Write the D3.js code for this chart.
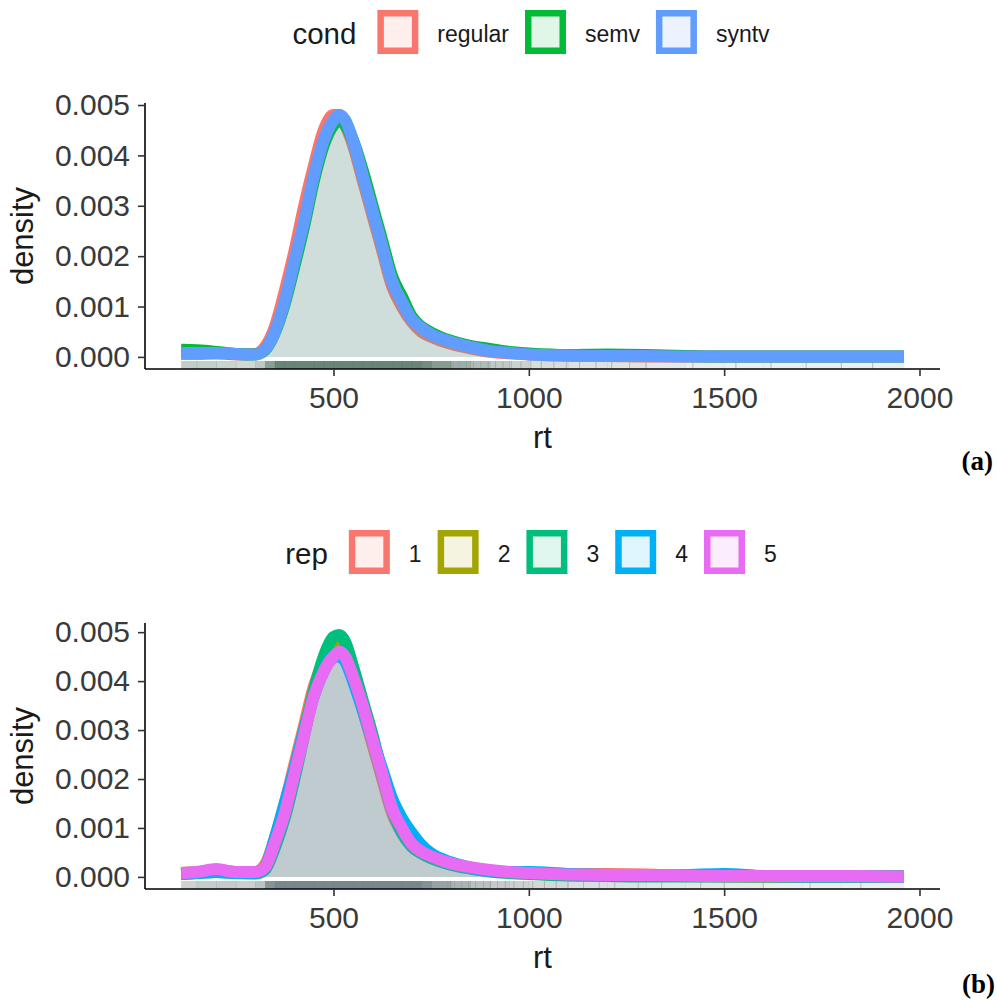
<!DOCTYPE html>
<html>
<head>
<meta charset="utf-8">
<script src="https://cdn.jsdelivr.net/npm/d3@7"></script>
<style>
    body { margin: 0; background: #fff; }
    svg { display: block; font-family: "Liberation Sans", Arial, sans-serif; }
</style>
</head>
<body>
<div id="chart"></div>
<script>

// ---- data ----
const rtGrid = [110, 150, 200, 250, 300, 325, 350, 375, 400, 425, 450, 475, 500, 515, 530, 550, 575, 600,
    625, 650, 675, 700, 725, 750, 800, 850, 900, 950, 1000, 1100, 1200, 1300, 1400, 1500, 1600, 1700, 1800, 1960];

// panel (a): density by cond
const regularDens = [0.00006, 0.00006, 0.00007, 0.00005, 0.00006, 0.0002, 0.0006, 0.0013, 0.0021, 0.0030, 0.0038, 0.0045, 0.0048, 0.0048, 0.0046, 0.0042, 0.0035, 0.0028,
    0.0021, 0.0014, 0.0010, 0.0007, 0.0005, 0.0004, 0.00026, 0.00017, 0.0001, 0.00007, 0.00005, 0.00002, 0.00002, 0.00001, 0.00001, 0.00001, 0.00001, 0.00001, 0.00001, 0.00001];
const semvDens = [0.00014, 0.00013, 0.0001, 0.00006, 0.00005, 0.00014, 0.00048, 0.00105, 0.0018, 0.0026, 0.0035, 0.0042, 0.0046, 0.0047, 0.0046, 0.0043, 0.0037, 0.0030,
    0.0023, 0.0016, 0.0012, 0.0008, 0.0006, 0.00048, 0.00032, 0.00022, 0.00016, 0.0001, 0.00007, 0.00004, 0.00005, 0.00004, 0.00002, 0.00001, 0.00001, 0.00001, 0.00001, 0.00001];
const syntvDens = [0.00008, 0.00008, 0.00008, 0.00006, 0.00005, 0.00015, 0.0005, 0.0011, 0.0019, 0.0027, 0.0036, 0.0043, 0.0047, 0.0048, 0.0047, 0.0043, 0.0036, 0.0029,
    0.0022, 0.0015, 0.0011, 0.00075, 0.00058, 0.00045, 0.0003, 0.0002, 0.00012, 0.00008, 0.00005, 0.00003, 0.00002, 0.00002, 0.00001, 0.00001, 0.00001, 0.00001, 0.00001, 0.00001];

// panel (b): density by rep
const rep1Dens = [0.00006, 0.00008, 0.00014, 0.0001, 0.0001, 0.00025, 0.0008, 0.0015, 0.0023, 0.0031, 0.0039, 0.0044, 0.0047, 0.0047, 0.0045, 0.0041, 0.0034, 0.0027,
    0.0020, 0.0013, 0.0009, 0.00065, 0.0005, 0.0004, 0.00027, 0.00018, 0.00012, 0.00009, 0.00007, 0.00006, 0.00006, 0.00005, 0.00002, 0.00001, 0.00001, 0.00001, 0.00001, 0.00001];
const rep2Dens = [0.00008, 0.0001, 0.00012, 0.0001, 0.00009, 0.0002, 0.0007, 0.0013, 0.0021, 0.0030, 0.0038, 0.0044, 0.0047, 0.0048, 0.0046, 0.0042, 0.0035, 0.0028,
    0.0021, 0.0014, 0.00095, 0.00068, 0.0005, 0.0004, 0.00026, 0.00018, 0.00012, 0.00009, 0.00007, 0.00004, 0.00003, 0.00003, 0.00002, 0.00002, 0.00001, 0.00001, 0.00001, 0.00001];
const rep3Dens = [0.00006, 0.00008, 0.0001, 0.00008, 0.00007, 0.00015, 0.0006, 0.0012, 0.0020, 0.0029, 0.0038, 0.0045, 0.0049, 0.00494, 0.0048, 0.0043, 0.0036, 0.0029,
    0.0021, 0.0014, 0.0009, 0.00062, 0.00048, 0.00038, 0.00025, 0.00017, 0.00011, 0.00008, 0.00006, 0.00003, 0.00002, 0.00001, 0.00001, 0.00001, 0.00001, 0.00001, 0.00001, 0.00001];
const rep4Dens = [0.00007, 0.00008, 0.0001, 0.00008, 0.00008, 0.0002, 0.0008, 0.0015, 0.0022, 0.0030, 0.0037, 0.0042, 0.0045, 0.0045, 0.0044, 0.0040, 0.0034, 0.0028,
    0.0022, 0.0016, 0.0012, 0.0009, 0.00065, 0.00048, 0.0003, 0.00019, 0.00012, 0.0001, 0.0001, 0.00006, 0.00004, 0.00003, 0.00004, 0.00006, 0.00002, 0.00001, 0.00001, 0.00001];
const rep5Dens = [0.00008, 0.0001, 0.00016, 0.0001, 0.0001, 0.0002, 0.0007, 0.0013, 0.0021, 0.0029, 0.0037, 0.0042, 0.0045, 0.0046, 0.0045, 0.0041, 0.0035, 0.0028,
    0.0021, 0.0014, 0.0010, 0.00068, 0.00052, 0.00042, 0.00028, 0.0002, 0.00014, 0.0001, 0.00008, 0.00005, 0.00004, 0.00004, 0.00003, 0.00002, 0.00002, 0.00002, 0.00002, 0.00001];

const condLevels = ["regular", "semv", "syntv"];
const condColors = ["#F8766D", "#00BA38", "#619CFF"];
const repLevels = ["1", "2", "3", "4", "5"];
const repColors = ["#F8766D", "#A3A500", "#00BF7D", "#00B0F6", "#E76BF3"];

// a few single rug marks visible in the sparse tail
const rugTailA = [790, 806, 822, 840, 858, 877, 896, 915, 934, 955, 980, 1005, 1032, 1064, 1096, 1130, 1172, 1212, 1258, 1300, 1420, 1530, 1620, 1710, 1800, 1880];
const rugTailB = [792, 810, 828, 846, 864, 884, 902, 920, 940, 962, 986, 1010, 1040, 1070, 1100, 1140, 1180, 1220, 1280, 1340, 1440, 1500, 1600, 1720, 1850];

const xTicks = [500, 1000, 1500, 2000];
const yTicks = [0, 0.001, 0.002, 0.003, 0.004, 0.005];

// ---- layout ----
const W = 997, H = 1001;
const plot = {left: 145, right: 940, top: 103, bottom: 369};
const legendCenterX = 531, keyW = 41, keyH = 44, keyTop = 10;

const svg = d3.select("#chart").append("svg")
    .attr("width", W)
    .attr("height", H);

function drawPanel(offsetY, title, levels, colors, series, rugColor, rugTail, tag, tagX, tagY, tagAnchor) {
    let g = svg.append("g").attr("transform", `translate(0, ${offsetY})`);

    // scales with ggplot's 5% expansion
    let xMin = d3.min(rtGrid), xMax = d3.max(rtGrid);
    let xPad = (xMax - xMin) * 0.05;
    let x = d3.scaleLinear().domain([xMin - xPad, xMax + xPad]).range([plot.left, plot.right]);

    let yMax = d3.max(series, s => d3.max(s));
    let y = d3.scaleLinear().domain([-yMax * 0.05, yMax * 1.05]).range([plot.bottom, plot.top]);

    // rug: shaded by local density of all groups
    let rugTop = plot.bottom - 8;
    let meanDens = rtGrid.map((r, i) => d3.mean(series, s => s[i]));
    let rugSegs = rtGrid.slice(0, -1).map((r, i) => ({x0: r, x1: rtGrid[i + 1], d: (meanDens[i] + meanDens[i + 1]) / 2}));
    g.append("g").selectAll("rect")
        .data(rugSegs)
        .enter().append("rect")
        .attr("x", d => x(d.x0))
        .attr("width", d => x(d.x1) - x(d.x0) + 0.5)
        .attr("y", rugTop)
        .attr("height", plot.bottom - rugTop)
        .attr("fill", rugColor)
        .attr("opacity", d => Math.min(0.9, Math.sqrt(d.d / 0.0007)));
    g.append("g").selectAll("line")
        .data(rugTail)
        .enter().append("line")
        .attr("x1", d => x(d)).attr("x2", d => x(d))
        .attr("y1", rugTop).attr("y2", plot.bottom)
        .attr("stroke", "#999")
        .attr("stroke-width", 1)
        .attr("opacity", 0.6);

    // densities
    let area = d3.area()
        .x((d, i) => x(rtGrid[i]))
        .y0(y(0))
        .y1(d => y(d))
        .curve(d3.curveMonotoneX);
    let line = d3.line()
        .x((d, i) => x(rtGrid[i]))
        .y(d => y(d))
        .curve(d3.curveMonotoneX);

    series.forEach((s, k) => {
        g.append("path")
            .attr("d", area(s))
            .attr("fill", colors[k])
            .attr("fill-opacity", 0.12);
        g.append("path")
            .attr("d", line(s))
            .attr("fill", "none")
            .attr("stroke", colors[k])
            .attr("stroke-width", 12)
            .attr("stroke-linejoin", "round")
            .attr("stroke-linecap", "butt");
    });

    // axes
    let xAxis = d3.axisBottom(x).tickValues(xTicks).tickSize(7).tickPadding(11).tickFormat(d3.format("d"));
    let yAxis = d3.axisLeft(y).tickValues(yTicks).tickSize(7).tickPadding(8).tickFormat(d3.format(".3f"));

    let xg = g.append("g")
        .attr("transform", `translate(0, ${plot.bottom})`)
        .call(xAxis);
    let yg = g.append("g")
        .attr("transform", `translate(${plot.left}, 0)`)
        .call(yAxis);

    [xg, yg].forEach(a => {
        a.select(".domain").attr("stroke", "#000").attr("stroke-width", 1.6);
        a.selectAll(".tick line").attr("stroke", "#333").attr("stroke-width", 1.6);
        a.selectAll(".tick text")
            .attr("fill", "#3a3a3a")
            .style("font-size", "30px")
            .style("font-family", "Liberation Sans, Arial, sans-serif");
    });
    xg.select(".domain").attr("d", `M${plot.left},0H${plot.right}`);
    yg.select(".domain").attr("d", `M0,${plot.top}V${plot.bottom}`);

    // axis titles
    g.append("text")
        .attr("x", (plot.left + plot.right) / 2)
        .attr("y", 448)
        .attr("text-anchor", "middle")
        .style("font-size", "31px")
        .attr("fill", "#1a1a1a")
        .text("rt");
    g.append("text")
        .attr("transform", `translate(33, ${(plot.top + plot.bottom) / 2}) rotate(-90)`)
        .attr("text-anchor", "middle")
        .style("font-size", "31px")
        .attr("fill", "#1a1a1a")
        .text("density");

    // legend on top
    let leg = g.append("g");
    let titleText = leg.append("text")
        .attr("y", keyTop + keyH / 2 + 12)
        .style("font-size", "29.5px")
        .attr("fill", "#1a1a1a")
        .text(title);
    let cursor = titleText.node().getComputedTextLength() + 21;
    levels.forEach((lev, k) => {
        leg.append("rect")
            .attr("x", cursor + 3.25)
            .attr("y", keyTop + 3.25)
            .attr("width", keyW - 6.5)
            .attr("height", keyH - 6.5)
            .attr("fill", d3.interpolateRgb("#ffffff", colors[k])(0.12))
            .attr("stroke", colors[k])
            .attr("stroke-width", 6.5);
        cursor += keyW + 19;
        let t = leg.append("text")
            .attr("x", cursor)
            .attr("y", keyTop + keyH / 2 + 10)
            .style("font-size", "23px")
            .attr("fill", "#1a1a1a")
            .text(lev);
        cursor += t.node().getComputedTextLength() + 16;
    });
    let legWidth = cursor - 16;
    leg.attr("transform", `translate(${legendCenterX - legWidth / 2}, 0)`);

    // panel tag
    g.append("text")
        .attr("x", tagX)
        .attr("y", tagY)
        .attr("text-anchor", tagAnchor)
        .style("font-family", "Liberation Serif, Times New Roman, serif")
        .style("font-weight", "bold")
        .style("font-size", "27px")
        .attr("fill", "#000")
        .text(tag);
}

drawPanel(0, "cond", condLevels, condColors, [regularDens, semvDens, syntvDens], "#587868", rugTailA, "(a)", 993, 470, "end");
drawPanel(520, "rep", repLevels, repColors, [rep1Dens, rep2Dens, rep3Dens, rep4Dens, rep5Dens], "#6a7b80", rugTailB, "(b)", 995, 473, "end");

</script>
</body>
</html>
